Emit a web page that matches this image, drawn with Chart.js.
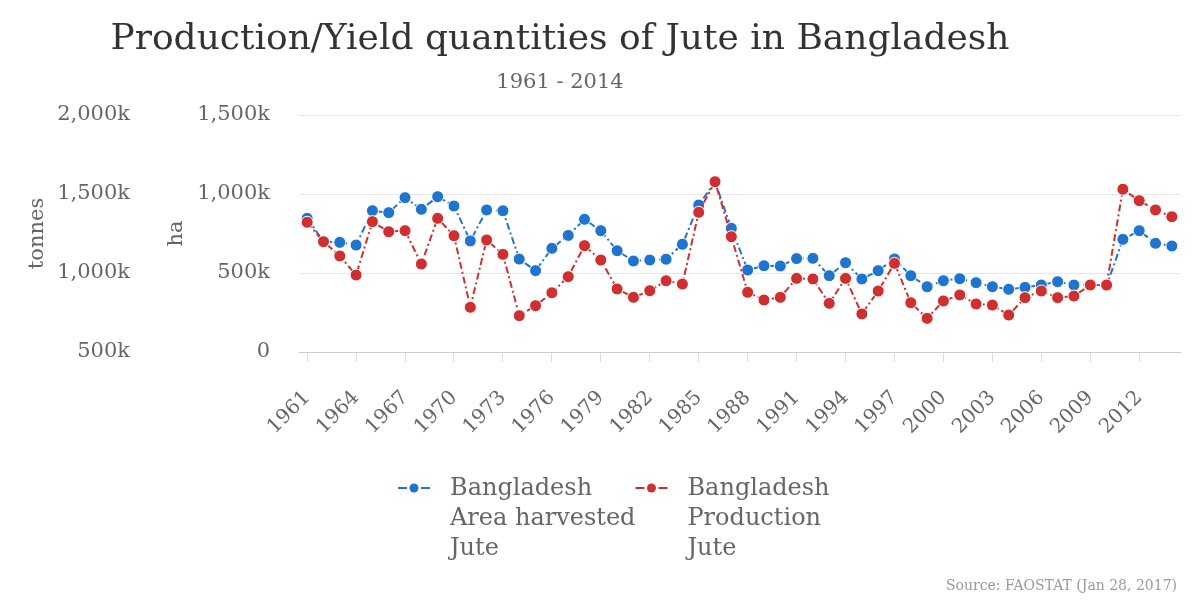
<!DOCTYPE html>
<html>
<head>
<meta charset="utf-8">
<script src="https://cdn.jsdelivr.net/npm/chart.js@4.4.0/dist/chart.umd.min.js"></script>
<style>
  html, body { margin: 0; padding: 0; background: #fff; }
</style>
</head>
<body>
<canvas id="grafico" width="1200" height="600"></canvas>
<script>
const anos = ['1961','1962','1963','1964','1965','1966','1967','1968','1969','1970',
  '1971','1972','1973','1974','1975','1976','1977','1978','1979','1980',
  '1981','1982','1983','1984','1985','1986','1987','1988','1989','1990',
  '1991','1992','1993','1994','1995','1996','1997','1998','1999','2000',
  '2001','2002','2003','2004','2005','2006','2007','2008','2009','2010',
  '2011','2012','2013','2014'];

// area harvested, thousand ha
const areaColhida = [846, 700, 694, 677, 894, 882, 977, 903, 983, 924,
  703, 899, 894, 588, 515, 656, 738, 840, 768, 641,
  576, 582, 587, 682, 930, 1076, 783, 519, 546, 544,
  591, 593, 483, 565, 462, 515, 589, 483, 413, 451,
  464, 439, 413, 397, 409, 424, 445, 424, 428, 420,
  713, 768, 688, 671];

// production, thousand tonnes
const producao = [1321, 1198, 1108, 987, 1325, 1261, 1268, 1057, 1346, 1236,
  783, 1209, 1118, 730, 793, 875, 977, 1173, 1082, 899,
  846, 888, 951, 930, 1384, 1578, 1230, 878, 829, 846,
  966, 962, 808, 966, 741, 886, 1061, 812, 713, 823,
  861, 804, 797, 734, 844, 886, 844, 854, 924, 924,
  1530, 1458, 1399, 1356];

const legendaArea = ['Bangladesh', 'Area harvested', 'Jute'];
const legendaProducao = ['Bangladesh', 'Production', 'Jute'];

const titulo = 'Production/Yield quantities of Jute in Bangladesh';
const subtitulo = '1961 - 2014';
const fonte = 'Source: FAOSTAT (Jan 28, 2017)';

const AZUL = '#1f74cf';
const VERMELHO = '#cf2f2f';
const SERIF = '"DejaVu Serif", serif';

const formatoK = v => v === 0 ? '0' : v.toLocaleString('en-US') + 'k';

function desenharMarcador(ctx, x, y, cor) {
  ctx.strokeStyle = cor;
  ctx.lineWidth = 2;
  ctx.beginPath();
  ctx.moveTo(x, y); ctx.lineTo(x + 9, y);
  ctx.moveTo(x + 23, y); ctx.lineTo(x + 32, y);
  ctx.stroke();
  ctx.fillStyle = cor;
  ctx.beginPath(); ctx.arc(x + 16, y, 4.5, 0, Math.PI * 2); ctx.fill();
}

const textos = {
  id: 'textos',
  afterDraw(chart) {
    const ctx = chart.ctx;
    ctx.save();
    ctx.textAlign = 'center';
    ctx.textBaseline = 'alphabetic';
    ctx.fillStyle = '#333';
    ctx.font = '36px ' + SERIF;
    ctx.fillText(titulo, 560, 49);
    ctx.fillStyle = '#666';
    ctx.font = '21px ' + SERIF;
    ctx.fillText(subtitulo, 560, 88);

    // legenda
    ctx.font = '24px ' + SERIF;
    ctx.textAlign = 'left';
    ctx.textBaseline = 'middle';
    const itens = [[legendaArea, AZUL], [legendaProducao, VERMELHO]];
    let x = 398;
    itens.forEach(([linhas, cor]) => {
      desenharMarcador(ctx, x, 488, cor);
      ctx.fillStyle = '#666';
      linhas.forEach((l, i) => ctx.fillText(l, x + 52, 489 + i * 30));
      x += 52 + Math.max(...linhas.map(l => ctx.measureText(l).width));
    });

    ctx.textAlign = 'right';
    ctx.textBaseline = 'alphabetic';
    ctx.fillStyle = '#999';
    ctx.font = '14px ' + SERIF;
    ctx.fillText(fonte, 1177, 590);
    ctx.restore();
  }
};

const ctx = document.getElementById('grafico').getContext('2d');

new Chart(ctx, {
  type: 'line',
  data: {
    labels: anos,
    datasets: [{
      label: 'Bangladesh Area harvested Jute',
      data: areaColhida,
      yAxisID: 'yHa',
      order: 1,
      borderColor: AZUL,
      backgroundColor: AZUL,
      borderWidth: 2,
      borderDash: [7, 3, 2, 3],
      pointRadius: 6,
      pointBorderColor: '#fff',
      pointBorderWidth: 1,
      pointBackgroundColor: AZUL,
      tension: 0
    }, {
      label: 'Bangladesh Production Jute',
      data: producao,
      yAxisID: 'yTon',
      order: 0,
      borderColor: VERMELHO,
      backgroundColor: VERMELHO,
      borderWidth: 2,
      borderDash: [7, 3, 2, 3],
      pointRadius: 6,
      pointBorderColor: '#fff',
      pointBorderWidth: 1,
      pointBackgroundColor: VERMELHO,
      tension: 0
    }]
  },
  options: {
    responsive: false,
    animation: false,
    layout: { padding: { top: 115, right: 20, left: 12, bottom: 128 } },
    plugins: {
      title: { display: false },
      tooltip: { enabled: false },
      legend: { display: false }
    },
    scales: {
      x: {
        offset: true,
        border: { display: true, color: '#ccc' },
        grid: { display: true, drawOnChartArea: false, drawTicks: true, tickLength: 10, color: '#ddd' },
        ticks: {
          autoSkip: false,
          maxRotation: 45,
          minRotation: 45,
          padding: 24,
          color: '#666',
          font: { family: SERIF, size: 20 },
          callback: function (v, i) { return i % 3 === 0 ? this.getLabelForValue(v) : null; }
        },
        afterFit: s => { s.height = 120; }
      },
      yTon: {
        position: 'left',
        weight: 1,
        min: 500,
        max: 2000,
        border: { display: false },
        grid: { display: false, drawTicks: false },
        ticks: { stepSize: 500, padding: 30, color: '#666', font: { family: SERIF, size: 21 }, callback: formatoK },
        title: { display: true, text: 'tonnes', color: '#666', padding: { top: 13, bottom: 0 }, font: { family: SERIF, size: 21 } },
        afterFit: s => { s.width = 148; }
      },
      yHa: {
        position: 'left',
        weight: 0,
        min: 0,
        max: 1500,
        border: { display: false },
        grid: { display: true, drawTicks: false, color: '#e6e6e6' },
        ticks: { stepSize: 500, padding: 29, color: '#666', font: { family: SERIF, size: 21 }, callback: formatoK },
        title: { display: true, text: 'ha', color: '#666', padding: { top: 4, bottom: 0 }, font: { family: SERIF, size: 21 } },
        afterFit: s => { s.width = 139; }
      }
    }
  },
  plugins: [textos]
});
</script>
</body>
</html>
